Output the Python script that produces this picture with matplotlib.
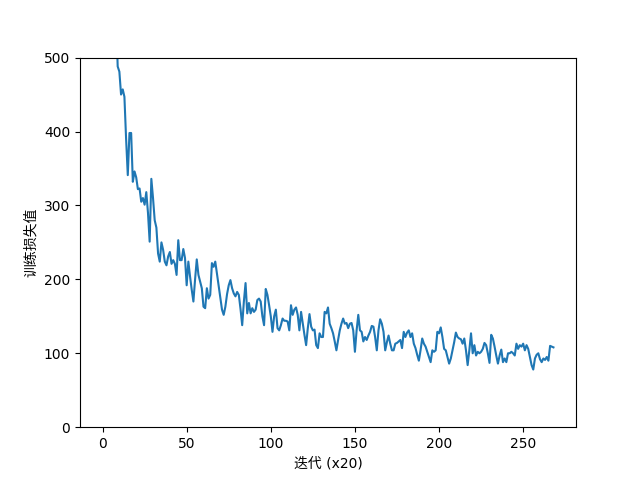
import matplotlib
matplotlib.use("Agg")
import matplotlib.pyplot as plt

plt.rcParams['font.family'] = ['DejaVu Sans', 'Noto Sans CJK SC']

x_label = "迭代 (x20)"
y_label = "训练损失值"

loss = [
    1500, 1300, 1100, 950, 850, 760, 680, 620, 560, 488,
    481, 450, 457, 447, 390, 341, 398, 398, 332, 346,
    338, 322, 323, 305, 310, 301, 318, 290, 251, 336,
    310, 280, 270, 235, 224, 250, 240, 224, 219, 231,
    237, 221, 226, 221, 206, 253, 226, 226, 241, 229,
    192, 224, 204, 186, 170, 200, 227, 206, 197, 188,
    163, 161, 188, 174, 179, 222, 217, 224, 208, 193,
    177, 159, 152, 163, 180, 192, 199, 188, 181, 177,
    183, 179, 160, 138, 170, 195, 154, 168, 154, 161,
    156, 159, 172, 174, 170, 150, 138, 187, 179, 165,
    150, 129, 150, 159, 134, 131, 138, 147, 144, 144,
    143, 131, 165, 152, 159, 162, 152, 131, 156, 140,
    125, 111, 134, 153, 136, 131, 132, 111, 107, 127,
    122, 122, 156, 154, 162, 140, 134, 127, 116, 104,
    118, 131, 140, 147, 140, 141, 134, 140, 141, 131,
    102, 131, 152, 131, 129, 116, 122, 118, 124, 129,
    137, 136, 122, 104, 131, 146, 140, 129, 104, 115,
    124, 113, 104, 104, 113, 114, 116, 118, 107, 129,
    122, 128, 131, 122, 127, 113, 107, 98, 90, 104,
    120, 113, 109, 102, 95, 88, 104, 102, 104, 129,
    127, 135, 122, 106, 104, 95, 86, 93, 104, 115,
    128, 122, 120, 119, 113, 120, 104, 84, 104, 127,
    100, 111, 97, 102, 100, 102, 106, 114, 111, 100,
    87, 125, 120, 109, 97, 86, 97, 105, 88, 93,
    88, 100, 100, 102, 100, 97, 113, 106, 111, 109,
    113, 104, 111, 106, 95, 84, 78, 93, 98, 100,
    92, 88, 93, 91, 95, 90, 110, 109, 108,
]
steps = list(range(len(loss)))

fig, ax = plt.subplots(figsize=(6.4, 4.8), dpi=100)
ax.plot(steps, loss)
ax.set_ylim(0, 500)
ax.set_xlabel(x_label)
ax.set_ylabel(y_label)
fig.savefig("out.png")
